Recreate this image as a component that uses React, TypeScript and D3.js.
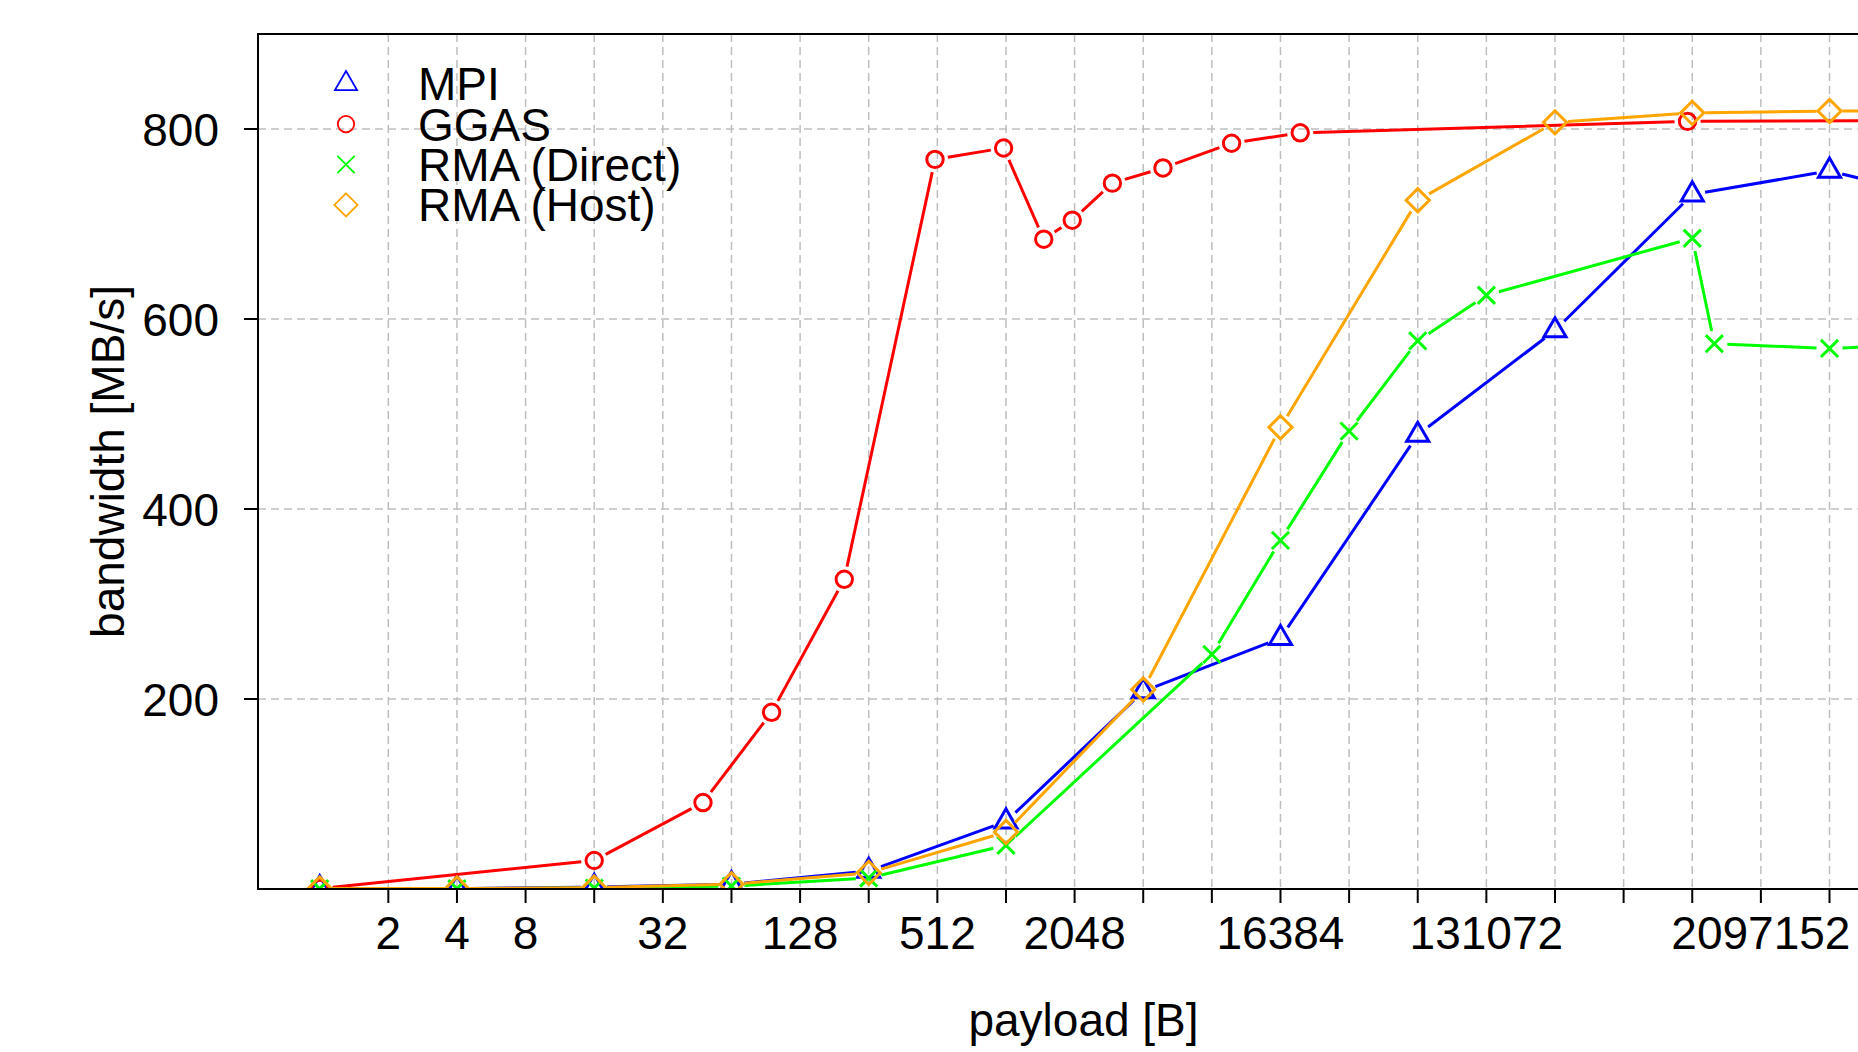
import * as d3 from 'd3';

// payload sizes [B] and bandwidth [MB/s] per series
const mpiX = [1, 4, 16, 64, 256, 1024, 4096, 16384, 65536, 262144, 1048576, 4194304, 8388608];
const mpiY = [0.5, 0.5, 2, 5, 19, 71, 208, 264, 478, 588, 731, 756, 738];

const ggasX = [1, 16, 48, 96, 200, 500, 1000, 1500, 2000, 3000, 5000, 10000, 20000, 1000000, 10000000];
const ggasY = [0.5, 30, 91, 186, 326, 768, 780, 684, 704, 743, 759, 785, 796, 808, 809];

const directX = [1, 4, 16, 64, 256, 1024, 8192, 16384, 32768, 65536, 131072, 1048576, 1310720, 4194304, 8388608];
const directY = [0.3, 0.3, 1, 3, 11.5, 46, 247, 367, 482, 577, 625, 685, 574, 569, 572];

const hostX = [1, 4, 16, 64, 256, 1024, 4096, 16384, 65536, 262144, 1048576, 4194304, 8388608];
const hostY = [0.5, 0.5, 1.5, 5, 17, 60, 210, 486, 725, 807, 817, 819, 819];

const xTickLabels = [2, 4, 8, 32, 128, 512, 2048, 16384, 131072, 2097152];
const yTicks = [200, 400, 600, 800];

const series = [
  { name: 'MPI', xs: mpiX, ys: mpiY, color: '#0000ff', shape: 'triangle' },
  { name: 'GGAS', xs: ggasX, ys: ggasY, color: '#ff0000', shape: 'circle' },
  { name: 'RMA (Direct)', xs: directX, ys: directY, color: '#00ff00', shape: 'cross' },
  { name: 'RMA (Host)', xs: hostX, ys: hostY, color: '#ffa500', shape: 'diamond' },
];

const W = 1858;
const H = 1052;
const box = { left: 258, right: 1909, top: 34, bottom: 889 };
const FONT = '"Liberation Sans", Arial, Helvetica, sans-serif';
const FS = 46;
const S = 8.2; // symbol radius
const GAP = 13; // gap between line and symbol (type = "b")

function Marker({ shape, x, y, color, sw }) {
  if (shape === 'circle') {
    return <circle cx={x} cy={y} r={S} fill="none" stroke={color} strokeWidth={sw} />;
  }
  let d = '';
  if (shape === 'triangle') {
    d = `M0,${-1.555 * S}L${1.347 * S},${0.778 * S}L${-1.347 * S},${0.778 * S}Z`;
  } else if (shape === 'diamond') {
    const r = 1.414 * S;
    d = `M0,${-r}L${r},0L0,${r}L${-r},0Z`;
  } else {
    const h = 8.6;
    d = `M${-h},${-h}L${h},${h}M${-h},${h}L${h},${-h}`;
  }
  return (
    <path d={d} transform={`translate(${x},${y})`} fill="none" stroke={color}
      strokeWidth={sw} strokeLinejoin="miter" />
  );
}

export default function App() {
  const x = d3.scaleLog().base(2).domain([1, 4194304]).range([319.7, 1829.5]);
  const y = d3.scaleLinear().domain([0, 900]).range([box.bottom, box.top]);

  const xTicks = d3.range(1, 24).map((p) => 2 ** p);

  const segments = (s) => {
    const pts = s.xs.map((v, i) => [x(v), y(s.ys[i])]);
    const out = [];
    for (let i = 0; i < pts.length - 1; i++) {
      const [x0, y0] = pts[i];
      const [x1, y1] = pts[i + 1];
      const len = Math.hypot(x1 - x0, y1 - y0);
      if (len <= 2 * GAP) continue;
      const ux = (x1 - x0) / len;
      const uy = (y1 - y0) / len;
      out.push(`M${x0 + ux * GAP},${y0 + uy * GAP}L${x1 - ux * GAP},${y1 - uy * GAP}`);
    }
    return out.join('');
  };

  return (
    <svg width={W} height={H} style={{ position: 'absolute', left: 0, top: 0, display: 'block', background: '#fff' }}
      fontFamily={FONT}>
      <defs>
        <clipPath id="plot">
          <rect x={box.left} y={box.top} width={box.right - box.left} height={box.bottom - box.top} />
        </clipPath>
      </defs>

      {/* grid */}
      <g stroke="#bebebe" strokeWidth={1.5} strokeDasharray="8 5" clipPath="url(#plot)">
        {xTicks.map((t) => (
          <line key={t} x1={x(t)} x2={x(t)} y1={box.top} y2={box.bottom} />
        ))}
        {yTicks.map((t) => (
          <line key={t} x1={box.left} x2={box.right} y1={y(t)} y2={y(t)} />
        ))}
      </g>

      {/* series */}
      <g clipPath="url(#plot)">
        {series.map((s) => (
          <g key={s.name}>
            <path d={segments(s)} fill="none" stroke={s.color} strokeWidth={3} />
            {s.xs.map((v, i) => (
              <Marker key={i} shape={s.shape} x={x(v)} y={y(s.ys[i])} color={s.color} sw={3} />
            ))}
          </g>
        ))}
      </g>

      {/* box */}
      <rect x={box.left} y={box.top} width={box.right - box.left} height={box.bottom - box.top}
        fill="none" stroke="#000" strokeWidth={2} />

      {/* x axis */}
      <g stroke="#000" strokeWidth={2}>
        {xTicks.map((t) => (
          <line key={t} x1={x(t)} x2={x(t)} y1={box.bottom} y2={box.bottom + 14} />
        ))}
      </g>
      <g fontSize={FS} textAnchor="middle" fill="#000">
        {xTickLabels.map((t) => (
          <text key={t} x={x(t)} y={949}>{t}</text>
        ))}
      </g>
      <text x={(box.left + box.right) / 2} y={1036} fontSize={FS} textAnchor="middle">payload [B]</text>

      {/* y axis */}
      <g stroke="#000" strokeWidth={2}>
        {yTicks.map((t) => (
          <line key={t} x1={box.left - 14} x2={box.left} y1={y(t)} y2={y(t)} />
        ))}
      </g>
      <g fontSize={FS} textAnchor="end" fill="#000">
        {yTicks.map((t) => (
          <text key={t} x={219} y={y(t)} dy="0.36em">{t}</text>
        ))}
      </g>
      <text transform={`translate(123.5,${(box.top + box.bottom) / 2}) rotate(-90)`} fontSize={FS}
        textAnchor="middle">bandwidth [MB/s]</text>

      {/* legend */}
      <g>
        {series.map((s, i) => {
          const cy = 83.7 + i * 40.4;
          return (
            <g key={s.name}>
              <Marker shape={s.shape} x={346} y={cy} color={s.color} sw={1.8} />
              <text x={418} y={cy + 16.5} fontSize={FS}>{s.name}</text>
            </g>
          );
        })}
      </g>
    </svg>
  );
}
